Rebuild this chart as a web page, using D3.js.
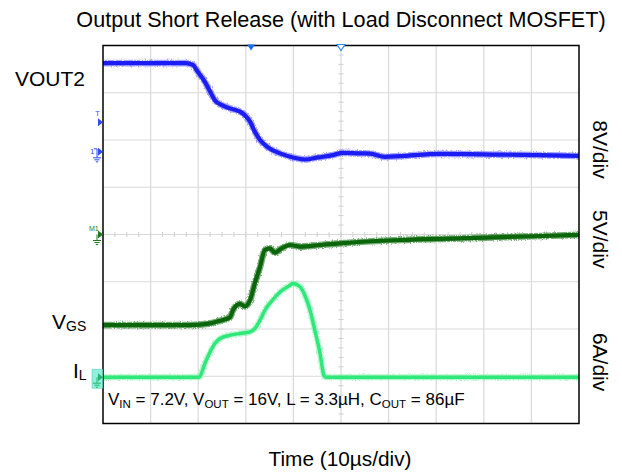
<!DOCTYPE html>
<meta charset="utf-8">
<script src="https://cdn.jsdelivr.net/npm/d3@7"></script>
<style>
  body { margin: 0; background: #fff; }
  text { font-family: "Liberation Sans", Arial, sans-serif; fill: #000; }
</style>
<body>
<script>

// time in us, value in the channel's own units
var vout2 = [[0,15.0],[17.4,15.0],[18.9,14.7],[19.7,13.8],[21.4,11.85],[22.5,10.2],[23.5,8.75],
             [25.0,7.9],[26.7,7.35],[28.8,6.8],[29.8,6.2],[30.9,5.1],[31.9,3.4],[33.0,2.0],
             [34.5,0.85],[37.2,-0.27],[39.9,-0.95],[42.4,-1.3],[45.2,-0.95],[48.3,-0.56],
             [50.4,-0.17],[54.0,-0.27],[56.1,-0.3],[59.2,-0.85],[62.4,-0.73],[70.8,-0.34],
             [83.4,-0.47],[100,-0.68]];

var vgs = [[0,-9.58],[18.3,-9.58],[22.5,-9.4],[24.6,-9.12],[26.7,-8.76],[27.3,-8.0],[28.8,-7.35],
           [29.8,-7.6],[30.9,-6.93],[31.9,-5.16],[33.0,-3.41],[34.0,-1.64],[35.1,-1.46],
           [36.1,-1.93],[37.2,-1.57],[39.3,-1.11],[41.4,-1.29],[45.6,-1.11],[49.8,-0.93],
           [62.4,-0.58],[75.0,-0.4],[100,-0.05]];

var iL = [[0,0],[20.2,0],[21.4,1.74],[22.5,3.21],[23.5,4.28],[24.6,4.91],[26.7,5.33],[28.8,5.55],
          [30.9,5.75],[31.9,6.18],[33.0,7.24],[34.0,8.5],[35.1,9.43],[37.2,10.83],[39.3,11.68],
          [39.9,11.9],[41.4,11.47],[42.4,10.41],[43.5,8.5],[44.5,5.97],[45.6,3.0],[46.4,0.25],
          [46.8,0],[100,0]];

var channels = [
  { name: "VOUT2", data: vout2, perDiv: 8, offset: 1.75, color: "#1c1cf5", halo: "#6a6aff", label: "8V/div", labelDiv: 1.8, w: 4.2 },
  { name: "VGS",   data: vgs,   perDiv: 5, offset: 0,    color: "#0b660b", halo: "#1f7a1f", label: "5V/div", labelDiv: -0.1, w: 4.2 },
  { name: "IL",    data: iL,    perDiv: 6, offset: -3.02, color: "#2ee87a", halo: "#7ff2aa", label: "6A/div", labelDiv: -2.7, w: 3.4 }
];

var timeDivs = 10;
var plot = { left: 103, right: 579, top: 45.5, bottom: 423.5 };

var svg = d3.select("body").append("svg")
  .attr("width", 622)
  .attr("height", 474);

// scope-like fuzz on the trace edges
var filt = svg.append("defs").append("filter").attr("id", "fuzz")
  .attr("x", "-5%").attr("y", "-20%").attr("width", "110%").attr("height", "140%");
filt.append("feTurbulence").attr("type", "fractalNoise").attr("baseFrequency", "1.2 0.6")
  .attr("numOctaves", 1).attr("seed", 3).attr("result", "n");
filt.append("feDisplacementMap").attr("in", "SourceGraphic").attr("in2", "n")
  .attr("scale", 4).attr("xChannelSelector", "R").attr("yChannelSelector", "G");

var x = d3.scaleLinear().domain([0, 100]).range([plot.left, plot.right]);
var y = d3.scaleLinear().domain([-4, 4]).range([plot.bottom, plot.top]);

// grid
var grid = svg.append("g");
grid.selectAll(".vg").data(d3.range(1, timeDivs)).enter().append("line")
  .attr("x1", d => x(d * 10)).attr("x2", d => x(d * 10))
  .attr("y1", plot.top).attr("y2", plot.bottom)
  .attr("stroke", "#d9d9d9").attr("stroke-width", 1.2);
grid.selectAll(".hg").data(d3.range(-3, 4)).enter().append("line")
  .attr("y1", d => y(d)).attr("y2", d => y(d))
  .attr("x1", plot.left).attr("x2", plot.right)
  .attr("stroke", "#d9d9d9").attr("stroke-width", 1.2);

// minor ticks on the centre lines
grid.selectAll(".vt").data(d3.range(-4, 4.01, 0.2)).enter().append("line")
  .attr("x1", x(50) - 2.5).attr("x2", x(50) + 2.5)
  .attr("y1", d => y(d)).attr("y2", d => y(d))
  .attr("stroke", "#cfcfcf");
grid.selectAll(".ht").data(d3.range(0, 100.01, 2.5)).enter().append("line")
  .attr("y1", y(0) - 2.5).attr("y2", y(0) + 2.5)
  .attr("x1", d => x(d)).attr("x2", d => x(d))
  .attr("stroke", "#cfcfcf");

// traces
channels.forEach(function(ch) {
  var line = d3.line()
    .x(d => x(d[0]))
    .y(d => y(d[1] / ch.perDiv + ch.offset))
    .curve(d3.curveMonotoneX);
  svg.append("path").datum(ch.data)
    .attr("d", line).attr("fill", "none")
    .attr("stroke", ch.halo).attr("stroke-width", ch.w + 2.5).attr("stroke-opacity", 0.6)
    .attr("stroke-linejoin", "round")
    .attr("filter", "url(#fuzz)");
  svg.append("path").datum(ch.data)
    .attr("d", line).attr("fill", "none")
    .attr("stroke", ch.color).attr("stroke-width", ch.w)
    .attr("stroke-linejoin", "round");
});

// frame
svg.append("rect")
  .attr("x", plot.left).attr("y", plot.top)
  .attr("width", plot.right - plot.left).attr("height", plot.bottom - plot.top)
  .attr("fill", "none").attr("stroke", "#000").attr("stroke-width", 1.5);

// top markers
svg.append("path")
  .attr("d", "M" + (x(31.1) - 4) + "," + (plot.top - 1) + "h8l-4,6z")
  .attr("fill", "#1a6cf0");
svg.append("path")
  .attr("d", "M" + (x(50) - 4) + "," + (plot.top - 1) + "h8l-4,6z")
  .attr("fill", "#fff").attr("stroke", "#2a8cf0").attr("stroke-width", 1.2);

// left channel markers
function ground(g, cx, cy, color) {
  g.append("path")
    .attr("d", "M" + cx + "," + cy + "v6M" + (cx - 4) + "," + (cy + 6) + "h8M" + (cx - 2.6) + "," + (cy + 8) + "h5.2M" + (cx - 1.2) + "," + (cy + 10) + "h2.4")
    .attr("stroke", color).attr("stroke-width", 1).attr("fill", "none");
}
function arrow(g, yy, color) {
  g.append("path")
    .attr("d", "M" + (plot.left - 5) + "," + (yy - 4) + "l5,4l-5,4z")
    .attr("fill", color);
}
var mk = svg.append("g");
var yT = y(5 / 8 + 1.75);
mk.append("text").attr("x", 95).attr("y", yT - 6).attr("font-size", 8).style("fill", "#3a5cf0").text("T");
arrow(mk, yT, "#2a4cf0");
var y1 = y(1.75);
mk.append("text").attr("x", 90).attr("y", y1 + 2).attr("font-size", 8).style("fill", "#2a4cf0").text("1");
arrow(mk, y1, "#2a4cf0");
mk.append("path").attr("d", "M94," + (y1 - 3) + "h3v3").attr("stroke", "#2a4cf0").attr("fill", "none");
ground(mk, 97, y1, "#2a4cf0");
var yM = y(0);
mk.append("text").attr("x", 89).attr("y", yM - 4).attr("font-size", 7).style("fill", "#1d7a1d").text("M1");
arrow(mk, yM, "#1d7a1d");
ground(mk, 97, yM, "#1d7a1d");
var y4 = y(-3.02);
mk.append("rect").attr("x", 92).attr("y", y4 - 8).attr("width", 10.5).attr("height", 19)
  .attr("fill", "#8ff0dc").attr("stroke", "#5ad8c4").attr("stroke-width", 0.6);
arrow(mk, y4, "#1fb86a");
ground(mk, 97, y4, "#1fb86a");

// left labels
svg.append("text").attr("x", 15).attr("y", y(3.3) + 7).attr("font-size", 21).text("VOUT2");
var vgsLab = svg.append("text").attr("x", 52).attr("y", 329).attr("font-size", 21);
vgsLab.append("tspan").text("V");
vgsLab.append("tspan").attr("font-size", 14).attr("dy", 2).text("GS");
var ilLab = svg.append("text").attr("x", 73).attr("y", 378).attr("font-size", 21);
ilLab.append("tspan").text("I");
ilLab.append("tspan").attr("font-size", 14).attr("dy", 2).text("L");

// right scale labels
channels.forEach(function(ch) {
  svg.append("text")
    .attr("transform", "translate(593," + y(ch.labelDiv) + ") rotate(90)")
    .attr("text-anchor", "middle")
    .attr("font-size", 21)
    .text(ch.label);
});

// conditions
var cond = svg.append("text").attr("x", 108).attr("y", 405).attr("font-size", 17);
[["V", ""], ["IN", "sub"], [" = 7.2V, V", ""], ["OUT", "sub"], [" = 16V, L = 3.3\u00b5H, C", ""], ["OUT", "sub"], [" = 86\u00b5F", ""]]
  .forEach(function(p, i, arr) {
    var t = cond.append("tspan").text(p[0]);
    if (p[1] === "sub") t.attr("font-size", 11.5).attr("dy", 3);
    else if (i > 0 && arr[i - 1][1] === "sub") t.attr("dy", -3);
  });

// title and x label
svg.append("text").attr("x", (plot.left + plot.right) / 2).attr("y", 27)
  .attr("text-anchor", "middle").attr("font-size", 21.6)
  .text("Output Short Release (with Load Disconnect MOSFET)");
svg.append("text").attr("x", (plot.left + plot.right) / 2 - 1).attr("y", 466)
  .attr("text-anchor", "middle").attr("font-size", 20.8)
  .text("Time (10\u00b5s/div)");
</script>
